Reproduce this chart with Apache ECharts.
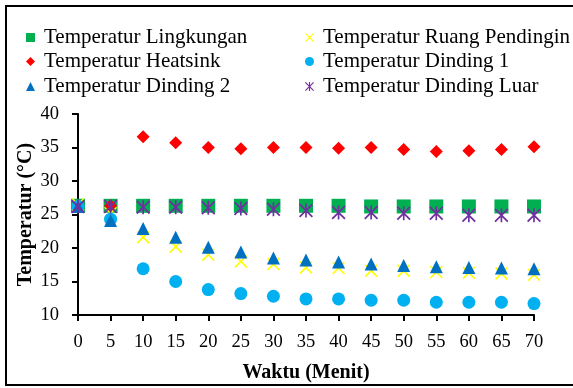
<!DOCTYPE html>
<html>
<head>
<meta charset="utf-8">
<script src="https://cdn.jsdelivr.net/npm/echarts@6/dist/echarts.min.js"></script>
<style>html,body{margin:0;padding:0;background:#fff;}#c{width:573px;height:388px;}</style>
</head>
<body>
<div id="c"></div>
<script>
const minutes = [0,5,10,15,20,25,30,35,40,45,50,55,60,65,70];
const lingkungan   = [26.3,26.3,26.3,26.3,26.3,26.3,26.3,26.3,26.3,26.2,26.2,26.2,26.2,26.2,26.2];
const ruangPending = [26.5,25.2,21.6,20.2,19.0,18.0,17.6,17.1,17.0,16.6,16.6,16.4,16.3,16.2,16.0];
const heatsink     = [26.2,26.3,36.6,35.7,35.0,34.8,35.0,35.0,34.9,35.0,34.7,34.4,34.5,34.7,35.1];
const dinding1     = [26.2,24.3,16.9,15.0,13.8,13.2,12.8,12.4,12.4,12.2,12.2,11.9,11.9,11.9,11.7];
const dinding2     = [26.2,24.1,22.9,21.6,20.1,19.4,18.5,18.2,17.9,17.6,17.4,17.2,17.1,17.0,16.9];
const dindingLuar  = [26.2,26.2,26.1,26.1,26.0,25.9,25.8,25.6,25.3,25.3,25.2,25.2,24.9,24.9,24.9];
const seriesNames = ['Temperatur Lingkungan','Temperatur Ruang Pendingin','Temperatur Heatsink','Temperatur Dinding 1','Temperatur Dinding 2','Temperatur Dinding Luar'];
const yTicks = {min:10, max:40, interval:5};
const xTicks = {min:0, max:70, interval:5};

const X_PATH = 'path://M0,0.9 L0.9,0 L10,9.1 L9.1,10 Z M0.9,10 L0,9.1 L9.1,0 L10,0.9 Z';
const STAR_PATH = 'path://M0,0.9 L0.9,0 L10,9.1 L9.1,10 Z M0.9,10 L0,9.1 L9.1,0 L10,0.9 Z M4.4,0 L5.6,0 L5.6,10 L4.4,10 Z';

const pairs = v => minutes.map((m,i)=>[m,v[i]]);
const font = 'Liberation Serif, Times New Roman, serif';

const defs = [
  {data:lingkungan, color:'#00B050', symbol:'rect', size:14},
  {data:ruangPending, color:'#FFFF00', symbol:X_PATH, size:13},
  {data:heatsink, color:'#FF0000', symbol:'diamond', size:[13,13]},
  {data:dinding1, color:'#00B0F0', symbol:'circle', size:13},
  {data:dinding2, color:'#0070C0', symbol:'triangle', size:13},
  {data:dindingLuar, color:'#7030A0', symbol:STAR_PATH, size:14}
];

const legendPos = [
  {left:26, top:27}, {left:305, top:27},
  {left:26, top:51}, {left:305, top:51},
  {left:26, top:76}, {left:305, top:76}
];

const chart = echarts.init(document.getElementById('c'), null, {renderer:'canvas'});
chart.setOption({
  backgroundColor:'#fff',
  animation:false,
  graphic:[{type:'rect', shape:{x:6,y:6,width:640,height:379}, style:{fill:'none', stroke:'#000', lineWidth:2}, z:-1}],
  legend: seriesNames.map((n,i)=>({
    data:[n], left:legendPos[i].left, top:legendPos[i].top, padding:0,
    itemWidth:9, itemHeight:9, itemGap:0,
    textStyle:{fontFamily:font, fontSize:21, color:'#000', padding:[0,0,0,4]}
  })),
  grid:{left:78, right:39, top:114, bottom:72},
  xAxis:{
    type:'value', min:xTicks.min, max:xTicks.max, interval:xTicks.interval,
    name:'Waktu (Menit)', nameLocation:'middle', nameGap:48, nameMoveOverlap:false,
    nameTextStyle:{fontFamily:font, fontSize:20, fontWeight:'bold', color:'#000'},
    axisLine:{show:true, onZero:false, lineStyle:{color:'#000', width:2}},
    axisTick:{show:true, length:6, lineStyle:{color:'#000', width:2}},
    axisLabel:{fontFamily:font, fontSize:18.5, color:'#000', margin:18},
    splitLine:{show:false}
  },
  yAxis:{
    type:'value', min:yTicks.min, max:yTicks.max, interval:yTicks.interval,
    name:'Temperatur (°C)', nameLocation:'middle', nameGap:42, nameMoveOverlap:false,
    nameTextStyle:{fontFamily:font, fontSize:20, fontWeight:'bold', color:'#000'},
    axisLine:{show:true, lineStyle:{color:'#000', width:2}},
    axisTick:{show:true, length:6, lineStyle:{color:'#000', width:2}},
    axisLabel:{fontFamily:font, fontSize:18.5, color:'#000', margin:19},
    splitLine:{show:false}
  },
  series: defs.map((d,i)=>({
    name:seriesNames[i], type:'scatter', data:pairs(d.data),
    symbol:d.symbol, symbolSize:d.size,
    itemStyle:{color:d.color, opacity:1},
    z:2+i
  }))
});
</script>
</body>
</html>
